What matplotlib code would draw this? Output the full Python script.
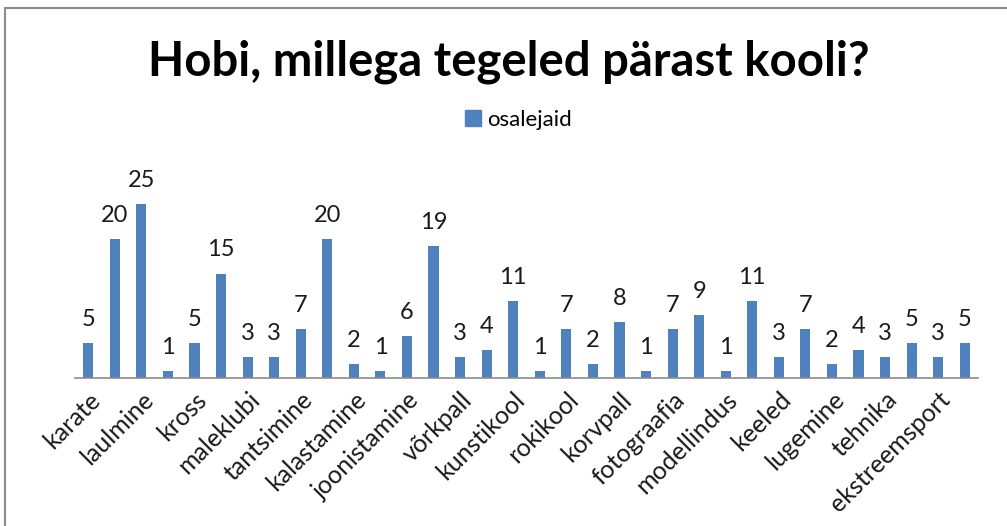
#!/usr/bin/env python3
"""Hobby survey bar chart (osalejaid per hobi)."""

import matplotlib
matplotlib.use("Agg")
import matplotlib.pyplot as plt
import matplotlib.patches as mpatches
import numpy as np

TITLE = "Hobi, millega tegeled pärast kooli?"
SERIES = "osalejaid"

# 34 bars; only every other category name is shown on the axis
values = [5, 20, 25, 1, 5, 15, 3, 3, 7, 20, 2, 1, 6, 19, 3, 4, 11,
          1, 7, 2, 8, 1, 7, 9, 1, 11, 3, 7, 2, 4, 3, 5, 3, 5]
shown_labels = ["karate", "laulmine", "kross", "maleklubi", "tantsimine",
                "kalastamine", "joonistamine", "võrkpall", "kunstikool",
                "rokikool", "korvpall", "fotograafia", "modellindus",
                "keeled", "lugemine", "tehnika", "ekstreemsport"]

BLUE = "#4f81bd"
FONT = ["Lato", "DejaVu Sans"]

W, H = 1007, 526
fig = plt.figure(figsize=(W / 100, H / 100), dpi=100)

# outer chart frame (right and bottom edges fall outside the image)
fig.patches.append(mpatches.Rectangle((5 / W, -0.02), 1.05, (H - 8) / H + 0.02,
                                      transform=fig.transFigure, fill=False,
                                      edgecolor="#8c8c8c", lw=1.5))

ax_left, ax_right = 75 / W, 978 / W
ax_bottom, ax_top = 1 - 378 / H, 1 - 160 / H
ax = fig.add_axes([ax_left, ax_bottom, ax_right - ax_left, ax_top - ax_bottom])

x = np.arange(len(values))
ax.bar(x, values, width=0.38, color=BLUE)
ax.set_xlim(-0.5, len(values) - 0.5)
ax.set_ylim(0, (378 - 160) / 6.96)

for xi, v in zip(x, values):
    ax.text(xi, v + 1.9, str(v), ha="center", va="bottom", fontsize=17,
            color="#1a1a1a", family=FONT)

ax.set_xticks(x[::2])
ax.set_xticklabels(shown_labels, rotation=45, ha="right", rotation_mode="anchor",
                   fontsize=18, family=FONT, color="#1a1a1a")
ax.tick_params(axis="x", length=0, pad=7)
ax.set_yticks([])
for side in ("top", "right", "left"):
    ax.spines[side].set_visible(False)
ax.spines["bottom"].set_color("#8c8c8c")
ax.spines["bottom"].set_linewidth(1.2)

fig.text(0.505, 1 - 62 / H, TITLE, ha="center", va="center", fontsize=34,
         fontweight="bold", family=FONT, color="black")

handle = mpatches.Patch(color=BLUE, label=SERIES)
fig.legend(handles=[handle], loc="center", bbox_to_anchor=(0.515, 1 - 120 / H),
           frameon=False, prop={"family": FONT, "size": 16},
           handlelength=0.7, handleheight=0.7, handletextpad=0.3)

fig.savefig("out.png", dpi=100)
